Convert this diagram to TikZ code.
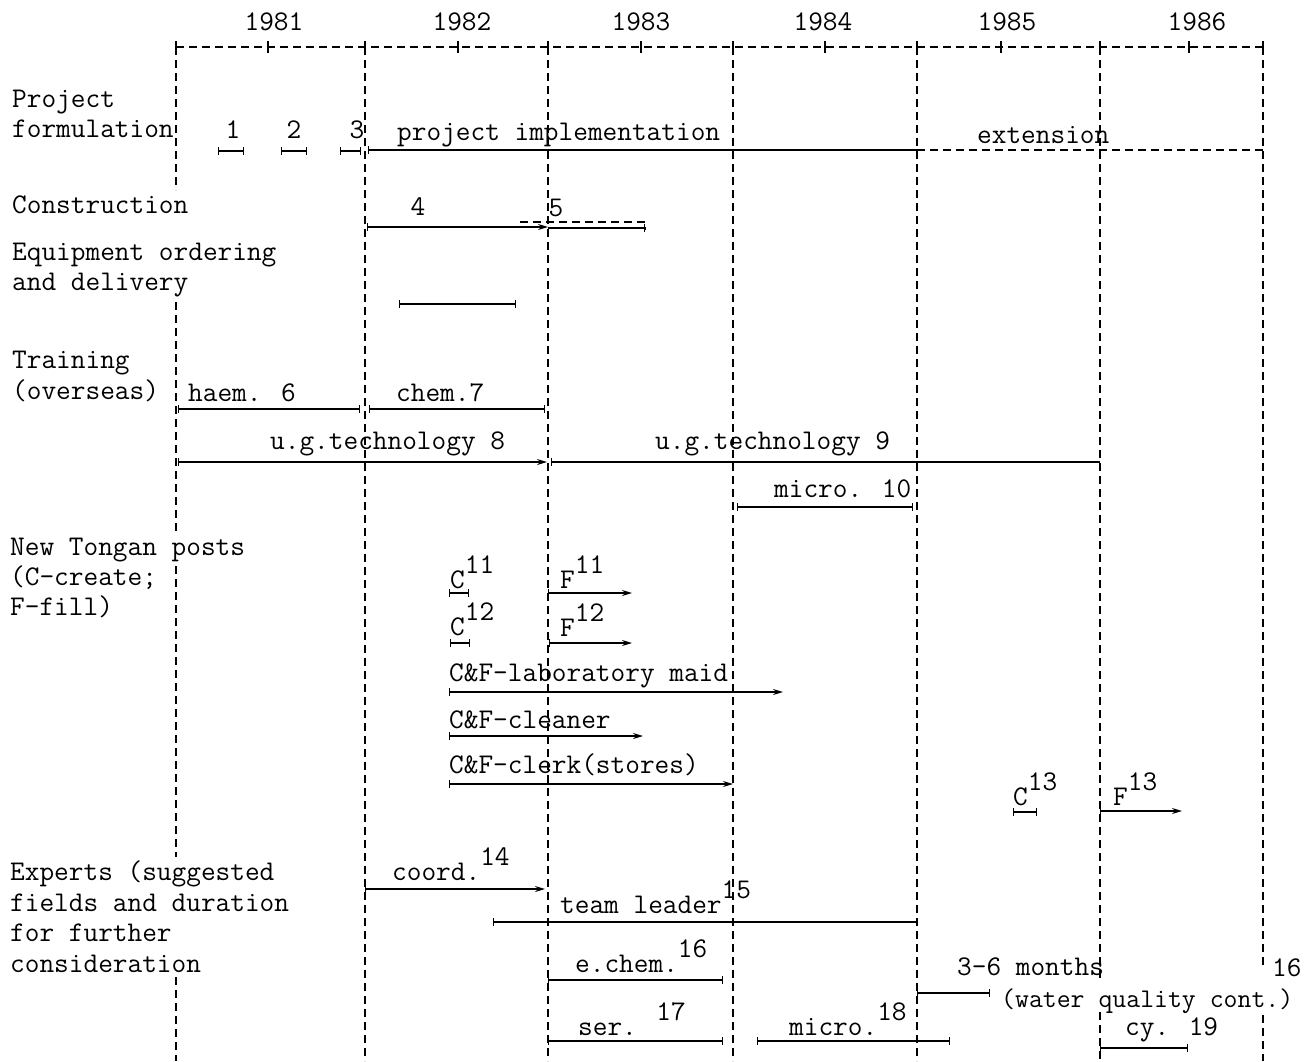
\documentclass[tikz,border=0pt]{standalone}
\usetikzlibrary{arrows.meta}
\newcommand\mysup[1]{\raisebox{15pt}{#1}}
\begin{document}
\begin{tikzpicture}[x=1pt,y=-1pt,
  txt/.style={anchor=base west,inner sep=0pt,font=\fontsize{28.5}{30}\selectfont\ttfamily},
  ctxt/.style={anchor=base,inner sep=0pt,font=\fontsize{28.5}{30}\selectfont\ttfamily},
  gridline/.style={line width=1.5pt,dash pattern=on 8pt off 5pt},
  tickline/.style={line width=1.4pt},
  bar/.style={line width=1.4pt,{Bar[width=8pt]}-{Bar[width=8pt]}},
  arr/.style={line width=1.4pt,{Bar[width=8pt]}-{Stealth[length=10pt,width=6pt]}},
  lbar/.style={line width=1.4pt,{Bar[width=8pt]}-},
  rbar/.style={line width=1.4pt,-{Bar[width=8pt]}}
]
\useasboundingbox (0,0) rectangle (1309,1061);

% year grid
\draw[gridline] (176,47) -- (1263,47);
\foreach \x in {176,268,365,458,548,641,733,825,917,1001,1100,1189,1263}
  \draw[tickline] (\x,41) -- (\x,53);
\foreach \x in {365,548,733,917}
  \draw[gridline] (\x,47) -- (\x,1061);
\draw[gridline] (1100,47) -- (1100,980);
\draw[gridline] (1100,1012) -- (1100,1061);
\draw[gridline] (176,47) -- (176,190);
\draw[gridline] (176,302) -- (176,532);
\draw[gridline] (176,566) -- (176,857);
\draw[gridline] (176,977) -- (176,1061);
\draw[gridline] (1263,47) -- (1263,968);
\draw[gridline] (1263,1015) -- (1263,1061);

\node[ctxt] (y81) at (274,30) {1981};
\node[ctxt] (y82) at (462,30) {1982};
\node[ctxt] (y83) at (641,30) {1983};
\node[ctxt] (y84) at (823,30) {1984};
\node[ctxt] (y85) at (1007,30) {1985};
\node[ctxt] (y86) at (1197,30) {1986};

% row labels
\node[txt] (l1a) at (12,107) {Project};
\node[txt] (l1b) at (12,137) {formulation};
\node[txt] (l2)  at (12,213) {Construction};
\node[txt] (l3a) at (12,260) {Equipment ordering};
\node[txt] (l3b) at (12,290) {and delivery};
\node[txt] (l4a) at (12,368) {Training};
\node[txt] (l4b) at (12,399) {(overseas)};
\node[txt] (l5a) at (10,555) {New Tongan posts};
\node[txt] (l5b) at (10,585) {(C-create;};
\node[txt] (l5c) at (10,615) {F-fill)};
\node[txt] (l6a) at (10,880) {Experts (suggested};
\node[txt] (l6b) at (10,911) {fields and duration};
\node[txt] (l6c) at (10,941) {for further};
\node[txt] (l6d) at (10,972) {consideration};

% project formulation / implementation
\node[ctxt] (n1) at (233,138) {1};
\node[ctxt] (n2) at (294,138) {2};
\node[ctxt] (n3) at (357,138) {3};
\draw[bar] (218,151) -- (244,151);
\draw[bar] (281,151) -- (307,151);
\draw[bar] (340,151) -- (361,151);
\node[txt] (pimp) at (397,140) {project implementation};
\draw[lbar] (368,150) -- (917,150);
\node[txt] (ext) at (977,143) {extension};
\draw[gridline] (917,150) -- (1263,150) -- (1263,157);

% construction
\node[ctxt] (n4) at (418,215) {4};
\node[ctxt] (n5) at (556,216) {5};
\draw[arr] (367,227) -- (548,227);
\draw[rbar] (548,228) -- (645,228);
\draw[gridline,line width=1.2pt] (520,222) -- (645,222) -- (645,230);

% equipment
\draw[bar] (399,304) -- (516,304);

% training
\node[txt] (haem) at (188,401) {haem. 6};
\node[txt] (chem) at (396,401) {chem.7};
\draw[bar] (178,409) -- (360,409);
\draw[bar] (369,409) -- (545,409);
\node[txt] (ug8) at (270,449) {u.g.technology 8};
\node[txt] (ug9) at (655,449) {u.g.technology 9};
\draw[arr] (178,462) -- (547,462);
\draw[lbar] (551,462) -- (1100,462);
\node[txt] (mic10) at (774,497) {micro. 10};
\draw[bar] (737,507) -- (913,507);

% new Tongan posts
\node[txt] (c11) at (450,588) {C\mysup{11}};
\node[txt] (f11) at (560,588) {F\mysup{11}};
\draw[bar] (449,593) -- (469,593);
\draw[arr] (548,593) -- (632,593);
\node[txt] (c12) at (450,635) {C\mysup{12}};
\node[txt] (f12) at (560,636) {F\mysup{12}};
\draw[bar] (450,643) -- (470,643);
\draw[arr] (549,643) -- (632,643);
\node[txt] (maid) at (449,681) {C\&F-laboratory maid};
\draw[arr] (449,692) -- (783,692);
\node[txt] (clean) at (449,728) {C\&F-cleaner};
\draw[arr] (449,736) -- (643,736);
\node[txt] (clerk) at (449,773) {C\&F-clerk(stores)};
\draw[arr] (449,784) -- (733,784);
\node[txt] (c13) at (1013,805) {C\mysup{13}};
\node[txt] (f13) at (1113,805) {F\mysup{13}};
\draw[bar] (1013,812) -- (1037,812);
\draw[arr] (1100,811) -- (1182,811);

% experts
\node[txt] (coord) at (392,880) {coord.\mysup{14}};
\draw[arr] (365,889) -- (545,889);
\node[txt] (team) at (560,913) {team leader\mysup{15}};
\draw[bar] (493,922) -- (917,922);
\node[txt] (echem) at (575,972) {e.chem.\mysup{16}};
\draw[bar] (548,980) -- (723,980);
\node[txt] (months) at (957,975) {3-6 months};
\draw[bar] (917,993) -- (990,993);
\node[txt,font=\fontsize{27}{30}\selectfont\ttfamily] (water) at (1001,1007) {(water quality cont.)};
\node[txt] (s16) at (1272,976) {16};
\node[txt] (ser) at (578,1035) {ser. \mysup{17}};
\draw[bar] (548,1041) -- (723,1041);
\node[txt] (mic18) at (789,1035) {micro.\mysup{18}};
\draw[bar] (757,1041) -- (950,1041);
\node[txt] (cy) at (1125,1035) {cy. 19};
\draw[bar] (1100,1048) -- (1188,1048);
\end{tikzpicture}
\end{document}
